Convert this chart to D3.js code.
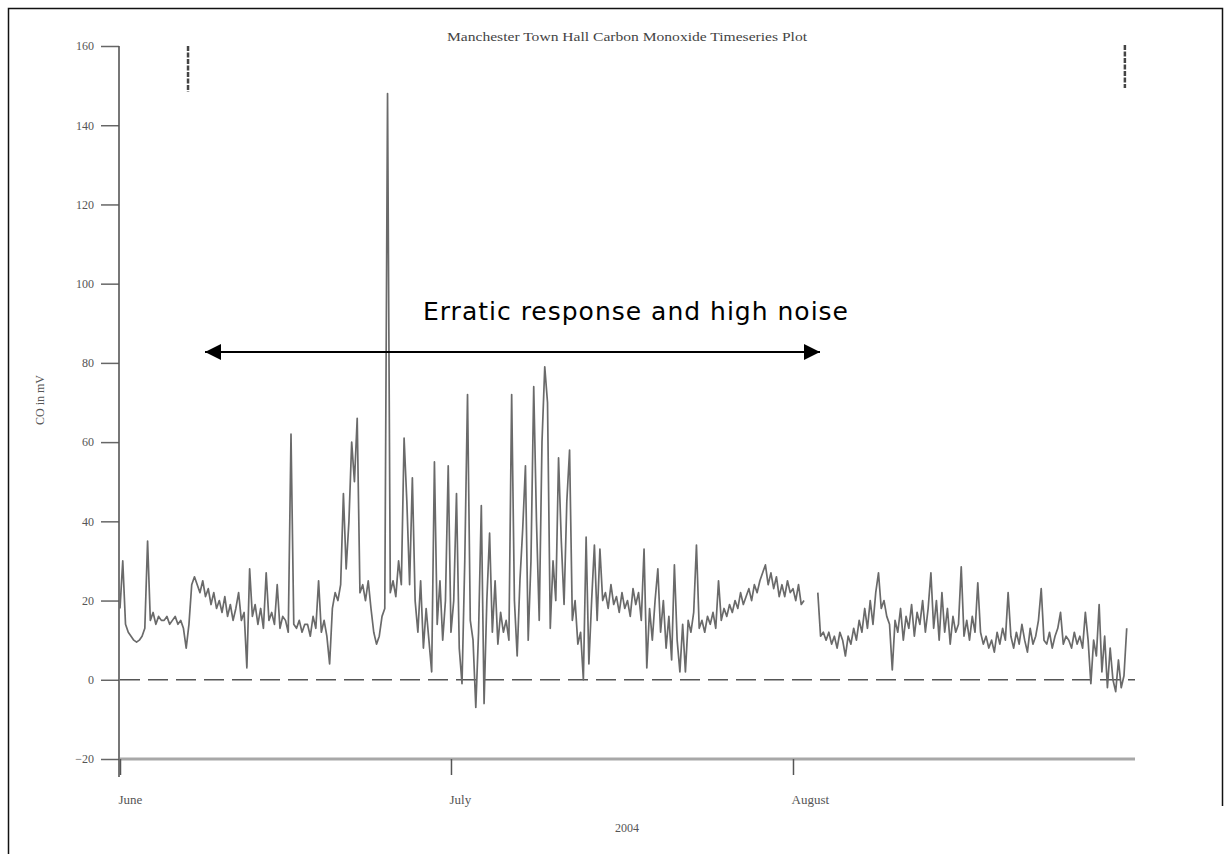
<!DOCTYPE html>
<html>
<head>
<meta charset="utf-8">
<script src="https://cdn.jsdelivr.net/npm/d3@7/dist/d3.min.js"></script>
<style>
  html, body { margin: 0; padding: 0; background: #fff; }
  svg { display: block; }
</style>
</head>
<body>
<svg id="chart" width="1230" height="854"></svg>
<script>
// ---------------- data ----------------
const chartTitle = "Manchester Town Hall Carbon Monoxide Timeseries Plot";
const yLabel = "CO in mV";
const xLabel = "2004";
const annotation = "Erratic response and high noise";
const yTicks = [-20, 0, 20, 40, 60, 80, 100, 120, 140, 160];
const monthTicks = ["2004-06-01", "2004-07-01", "2004-08-01"];
const monthLabels = ["June", "July", "August"];
const startDate = "2004-06-01T00:00:00Z";
const stepHours = 6;
// CO readings (mV), one every 6 hours from 1 June 2004 (null = no data)
const coValues = [
  18, 30, 14, 12,   11, 10, 9.5, 10,   11, 13, 35, 15,   17, 14, 16, 15,
  15, 16, 14, 15,   16, 14, 15, 13,    8, 14, 24, 26,    24, 22, 25, 21,
  23, 19, 22, 18,   20, 17, 21, 16,    19, 15, 18, 22,   15, 17, 3, 28,
  16, 19, 14, 18,   13, 27, 15, 17,    14, 24, 13, 16,   15, 12, 62, 14,
  13, 15, 12, 14,   14, 11, 16, 13,    25, 12, 15, 11,   4, 18, 22, 20,
  24, 47, 28, 40,   60, 50, 66, 22,    24, 20, 25, 18,   12, 9, 11, 16,
  18, 148, 22, 25,  21, 30, 24, 61,    45, 24, 51, 20,   12, 25, 8, 18,
  10, 2, 55, 14,    25, 10, 20, 54,    12, 20, 47, 8,    -1, 30, 72, 15,
  10, -7, 12, 44,   -6, 20, 37, 12,    25, 9, 17, 12,    15, 10, 72, 20,
  6, 25, 38, 54,    10, 30, 74, 40,    15, 60, 79, 70,   13, 30, 20, 56,
  35, 19, 45, 58,   15, 20, 9, 12,     0, 36, 4, 20,     34, 15, 33, 20,
  22, 18, 24, 19,   21, 17, 22, 18,    20, 16, 23, 19,   22, 15, 33, 3,
  18, 10, 20, 28,   12, 20, 8, 16,     5, 29, 10, 2,     14, 2, 15, 12,
  17, 34, 13, 15,   12, 16, 14, 17,    13, 25, 15, 18,   16, 19, 17, 20,
  18, 22, 19, 21,   23, 20, 24, 22,    25, 27, 29, 24,   27, 23, 26, 21,
  24, 21, 25, 22,   23, 20, 24, 19,    20, null, null, null, null, 22, 11, 12,
  10, 12, 9, 11,    8, 12, 10, 6,      11, 9, 13, 10,    15, 12, 18, 13,
  20, 14, 22, 27,   18, 20, 16, 14,    2.5, 15, 12, 18,  10, 16, 13, 19,
  11, 17, 14, 20,   12, 18, 27, 13,    20, 10, 22, 12,   18, 9, 16, 12,
  14, 28.5, 11, 15, 10, 16, 12, 24.5,  12, 9, 11, 8,     10, 7, 12, 9,
  13, 10, 22, 11,   8, 12, 9, 14,      10, 7, 13, 9,     11, 15, 23, 10,
  9, 12, 8, 11,     13, 17, 9, 11,     10, 8, 12, 9,     11, 8, 17, 10,
  -1, 10, 6, 19,    2, 11, -2, 8,      0, -3, 5, -2,     1, 13
];
const markerDates = ["2004-06-07T04:00:00Z", "2004-08-31T02:00:00Z"];

// ---------------- drawing ----------------
const svg = d3.select("#chart");
const t0 = new Date(startDate);
const series = coValues.map((v, i) => ({ t: new Date(t0.getTime() + i * stepHours * 3600e3), v }));

const x = d3.scaleUtc()
  .domain([new Date("2004-06-01T00:00:00Z"), new Date("2004-09-01T00:00:00Z")])
  .range([120, 1135]);
const y = d3.scaleLinear().domain([-20, 160]).range([759, 46]);

// frame
svg.append("path")
  .attr("d", "M8.5,854 L8.5,8.5 L1222.5,8.5 L1222.5,806")
  .attr("fill", "none").attr("stroke", "#111").attr("stroke-width", 1.5);

const serif = "'Liberation Serif', 'DejaVu Serif', serif";

// title
svg.append("text")
  .attr("x", 627).attr("y", 41)
  .attr("text-anchor", "middle")
  .attr("font-family", serif).attr("font-size", 13)
  .attr("fill", "#444")
  .attr("textLength", 360).attr("lengthAdjust", "spacingAndGlyphs")
  .text(chartTitle);

// x axis baseline (at y = -20)
svg.append("line")
  .attr("x1", x.range()[0]).attr("x2", x.range()[1])
  .attr("y1", y(-20)).attr("y2", y(-20))
  .attr("stroke", "#a8a8a8").attr("stroke-width", 3);

// zero dashed line
svg.append("line")
  .attr("x1", x.range()[0]).attr("x2", x.range()[1])
  .attr("y1", y(0)).attr("y2", y(0))
  .attr("stroke", "#555").attr("stroke-width", 1.6)
  .attr("stroke-dasharray", "20,8");

// y axis
const yAxis = d3.axisLeft(y).tickValues(yTicks).tickSize(18).tickPadding(7).tickFormat(d3.format("d"));
const yg = svg.append("g").attr("transform", "translate(119,0)").call(yAxis);
yg.select(".domain").remove();
yg.selectAll(".tick line").attr("stroke", "#666").attr("stroke-width", 1.5);
yg.selectAll(".tick text").attr("font-family", serif).attr("font-size", 12).attr("fill", "#555");
svg.append("line")
  .attr("x1", 119).attr("x2", 119)
  .attr("y1", y(160)).attr("y2", 777)
  .attr("stroke", "#555").attr("stroke-width", 1.6);

// x axis ticks
const xAxis = d3.axisBottom(x)
  .tickValues(monthTicks.map(d => new Date(d + "T00:00:00Z")))
  .tickSize(16).tickPadding(20)
  .tickFormat((d, i) => monthLabels[i]);
const xg = svg.append("g").attr("transform", `translate(0,${y(-20)})`).call(xAxis);
xg.select(".domain").remove();
xg.selectAll(".tick line").attr("stroke", "#555").attr("stroke-width", 1.5);
xg.selectAll(".tick text")
  .attr("font-family", serif).attr("font-size", 13).attr("fill", "#555")
  .attr("text-anchor", "start").attr("dx", -2);

// axis titles
svg.append("text")
  .attr("x", 627).attr("y", 832)
  .attr("text-anchor", "middle")
  .attr("font-family", serif).attr("font-size", 12).attr("fill", "#555")
  .text(xLabel);
svg.append("text")
  .attr("transform", "translate(44,400) rotate(-90)")
  .attr("text-anchor", "middle")
  .attr("font-family", serif).attr("font-size", 12).attr("fill", "#555")
  .text(yLabel);

// event markers at the top
svg.selectAll(".marker").data(markerDates).enter().append("line")
  .attr("class", "marker")
  .attr("x1", d => x(new Date(d))).attr("x2", d => x(new Date(d)))
  .attr("y1", (d, i) => i === 0 ? 46 : 45)
  .attr("y2", (d, i) => i === 0 ? 92 : 88)
  .attr("stroke", "#444").attr("stroke-width", 2.5)
  .attr("stroke-dasharray", "5,1.5");

// data line
const line = d3.line()
  .defined(d => d.v !== null)
  .x(d => x(d.t))
  .y(d => y(d.v));
svg.append("path")
  .datum(series)
  .attr("d", line)
  .attr("fill", "none")
  .attr("stroke", "#6a6a6a")
  .attr("stroke-width", 1.7)
  .attr("stroke-linejoin", "round");

// annotation arrow
const defs = svg.append("defs");
defs.append("marker")
  .attr("id", "ah").attr("viewBox", "0 0 10 10")
  .attr("refX", 10).attr("refY", 5)
  .attr("markerWidth", 23).attr("markerHeight", 16)
  .attr("markerUnits", "userSpaceOnUse")
  .attr("orient", "auto-start-reverse")
  .append("path").attr("d", "M0,0 L10,5 L0,10 Z").attr("fill", "#000");
svg.append("line")
  .attr("x1", 205).attr("x2", 820).attr("y1", 352).attr("y2", 352)
  .attr("stroke", "#000").attr("stroke-width", 2)
  .attr("marker-start", "url(#ah)").attr("marker-end", "url(#ah)");

svg.append("text")
  .attr("x", 423).attr("y", 320)
  .attr("font-family", "'DejaVu Sans', Verdana, sans-serif")
  .attr("font-size", 25).attr("fill", "#000")
  .attr("textLength", 425).attr("lengthAdjust", "spacing")
  .text(annotation);
</script>
</body>
</html>
